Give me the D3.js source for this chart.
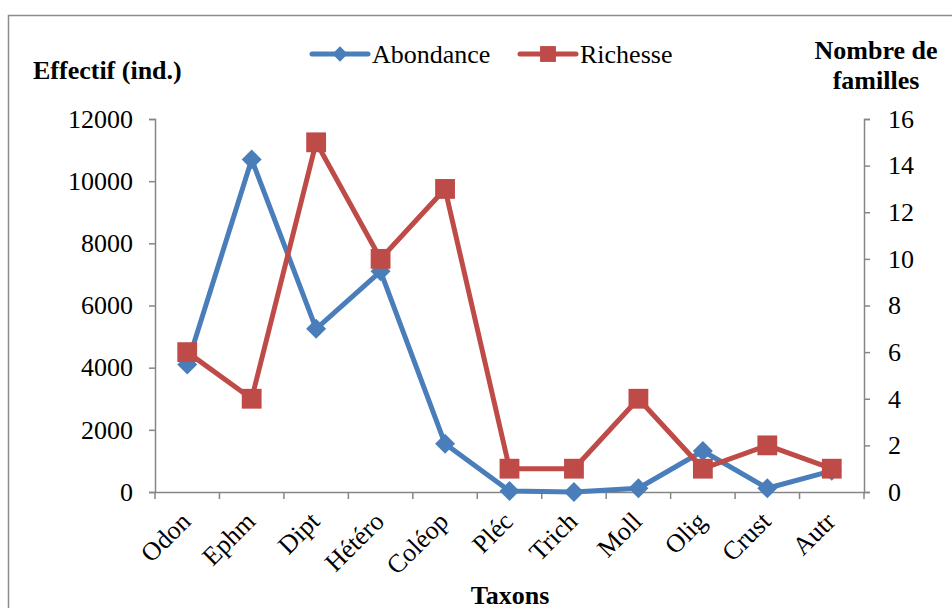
<!DOCTYPE html>
<html>
<head>
<meta charset="utf-8">
<script src="https://cdn.jsdelivr.net/npm/d3@7"></script>
<style>
  body { margin: 0; background: #fff; }
  svg text { font-family: "Liberation Serif", "Times New Roman", serif; fill: #000; }
</style>
</head>
<body>
<script>
'use strict';

// categories and the two series
var taxons = ['Odon', 'Ephm', 'Dipt', 'Hétéro', 'Coléop', 'Pléc', 'Trich', 'Moll', 'Olig', 'Crust', 'Autr'];
var abondance = [4100, 10700, 5250, 7100, 1550, 30, 0, 120, 1320, 120, 680];
var richesse = [6, 4, 15, 10, 13, 1, 1, 4, 1, 2, 1];
var leftTicks = [0, 2000, 4000, 6000, 8000, 10000, 12000];
var rightTicks = [0, 2, 4, 6, 8, 10, 12, 14, 16];

var width = 952;
var height = 608;
var blue = '#4a7ebb';
var red = '#be4b48';
var axisGrey = '#868686';
var fontSize = '26px';

var plot = { left: 155, right: 864, top: 119, bottom: 492 };

var svg = d3.select('body').append('svg')
  .attr('width', width)
  .attr('height', height);

// chart frame
svg.append('rect')
  .attr('x', 8.5).attr('y', 15.5)
  .attr('width', 950).attr('height', 600)
  .attr('fill', 'none')
  .attr('stroke', '#8c8c8c')
  .attr('stroke-width', 1.5);

var x = d3.scaleBand()
  .domain(taxons)
  .range([plot.left, plot.right]);

var yLeft = d3.scaleLinear()
  .domain([0, 12000])
  .range([plot.bottom, plot.top]);

var yRight = d3.scaleLinear()
  .domain([0, 16])
  .range([plot.bottom, plot.top]);

function cx(d, i) { return x(taxons[i]) + x.bandwidth() / 2; }

//left axis
var gLeft = svg.append('g')
  .attr('transform', 'translate(' + plot.left + ',0)')
  .call(d3.axisLeft(yLeft).tickValues(leftTicks).tickSize(6).tickPadding(16).tickFormat(d3.format('d')));

//right axis
var gRight = svg.append('g')
  .attr('transform', 'translate(' + plot.right + ',0)')
  .call(d3.axisRight(yRight).tickValues(rightTicks).tickSize(6).tickPadding(18));

//bottom axis, ticks sit on category boundaries like excel
var gBottom = svg.append('g')
  .attr('transform', 'translate(0,' + plot.bottom + ')')
  .call(d3.axisBottom(x).tickSize(0).tickFormat(''));

gBottom.selectAll('.boundary')
  .data(taxons.concat(['end']))
  .enter().append('line')
  .attr('class', 'boundary')
  .attr('x1', function(d, i) { return plot.left + x.step() * i; })
  .attr('x2', function(d, i) { return plot.left + x.step() * i; })
  .attr('y1', 0).attr('y2', 7)
  .attr('stroke', axisGrey)
  .attr('stroke-width', 1.5);

[gLeft, gRight, gBottom].forEach(function(g) {
  g.attr('font-family', null).attr('font-size', null);
  g.select('.domain').attr('stroke', axisGrey).attr('stroke-width', 1.5);
  g.selectAll('.tick line').attr('stroke', axisGrey).attr('stroke-width', 1.5);
  g.selectAll('.tick text')
    .style('font-family', '"Liberation Serif", serif')
    .style('font-size', fontSize)
    .attr('fill', '#000');
});

//category labels rotated at 45 degrees
svg.append('g').selectAll('text')
  .data(taxons)
  .enter().append('text')
  .attr('transform', function(d, i) {
    return 'translate(' + (cx(d, i) + 5) + ',' + (plot.bottom + 31) + ') rotate(-45)';
  })
  .attr('text-anchor', 'end')
  .style('font-size', fontSize)
  .text(function(d) { return d; });

//lines
var lineLeft = d3.line()
  .x(cx)
  .y(function(d) { return yLeft(d); });

var lineRight = d3.line()
  .x(cx)
  .y(function(d) { return yRight(d); });

svg.append('path')
  .datum(abondance)
  .attr('d', lineLeft)
  .attr('fill', 'none')
  .attr('stroke', blue)
  .attr('stroke-width', 5)
  .attr('stroke-linejoin', 'round');

var diamond = d3.symbol().type(d3.symbolDiamond2).size(255);
var square = d3.symbol().type(d3.symbolSquare2).size(500);

svg.append('g').selectAll('path')
  .data(abondance)
  .enter().append('path')
  .attr('transform', function(d, i) { return 'translate(' + cx(d, i) + ',' + yLeft(d) + ')'; })
  .attr('d', diamond)
  .attr('fill', blue);

svg.append('path')
  .datum(richesse)
  .attr('d', lineRight)
  .attr('fill', 'none')
  .attr('stroke', red)
  .attr('stroke-width', 5)
  .attr('stroke-linejoin', 'round');

svg.append('g').selectAll('path')
  .data(richesse)
  .enter().append('path')
  .attr('transform', function(d, i) { return 'translate(' + cx(d, i) + ',' + yRight(d) + ')'; })
  .attr('d', square)
  .attr('fill', red);

//axis titles
svg.append('text')
  .attr('x', 33).attr('y', 79)
  .style('font-size', fontSize)
  .style('font-weight', 'bold')
  .text('Effectif (ind.)');

var rightTitle = svg.append('text')
  .attr('text-anchor', 'middle')
  .style('font-size', fontSize)
  .style('font-weight', 'bold');
rightTitle.append('tspan').attr('x', 876).attr('y', 59).text('Nombre de');
rightTitle.append('tspan').attr('x', 876).attr('y', 89).text('familles');

svg.append('text')
  .attr('x', 510).attr('y', 604)
  .attr('text-anchor', 'middle')
  .style('font-size', fontSize)
  .style('font-weight', 'bold')
  .text('Taxons');

//legend
var legendItems = [
  { name: 'Abondance', color: blue, symbol: d3.symbol().type(d3.symbolDiamond2).size(150), x: 312 },
  { name: 'Richesse', color: red, symbol: d3.symbol().type(d3.symbolSquare2).size(320), x: 520 }
];

var legend = svg.selectAll('g.legend')
  .data(legendItems)
  .enter().append('g')
  .attr('class', 'legend')
  .attr('transform', function(d) { return 'translate(' + d.x + ',54)'; });

legend.append('line')
  .attr('x1', 0).attr('x2', 56)
  .attr('y1', 0).attr('y2', 0)
  .attr('stroke', function(d) { return d.color; })
  .attr('stroke-width', 5)
  .attr('stroke-linecap', 'round');

legend.append('path')
  .attr('transform', 'translate(28,0)')
  .attr('d', function(d) { return d.symbol(); })
  .attr('fill', function(d) { return d.color; });

legend.append('text')
  .attr('x', 60).attr('y', 9)
  .style('font-size', fontSize)
  .text(function(d) { return d.name; });
</script>
</body>
</html>
